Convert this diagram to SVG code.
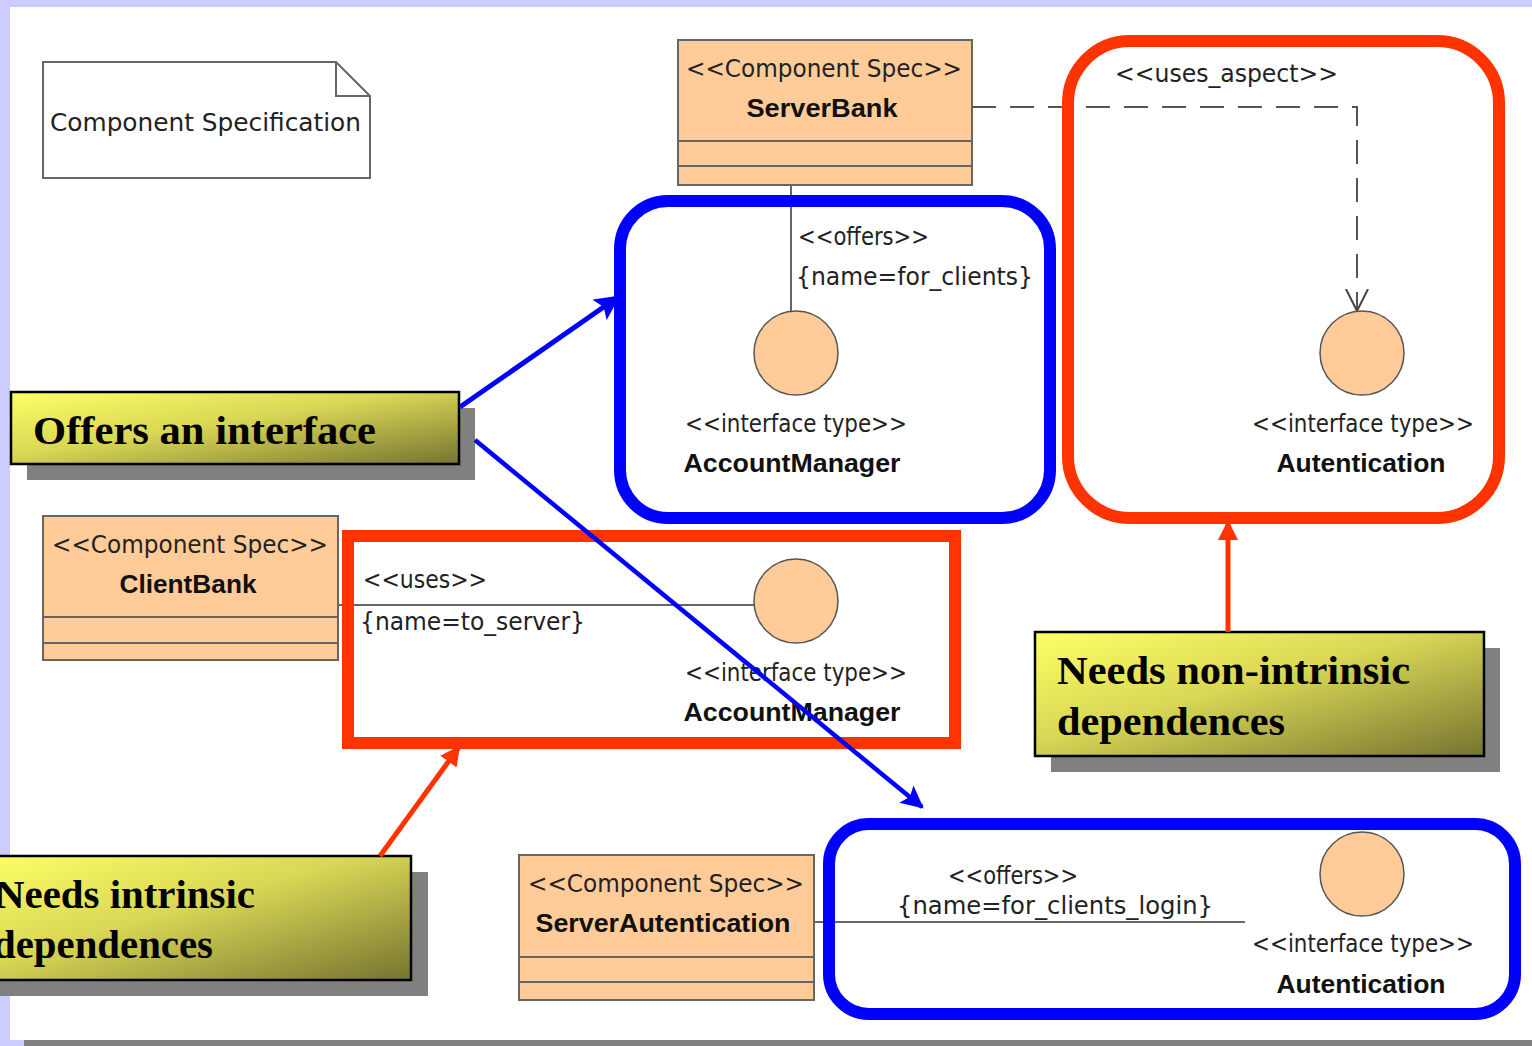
<svg xmlns="http://www.w3.org/2000/svg" width="1532" height="1046" viewBox="0 0 1532 1046">
  <defs>
    <linearGradient id="callout" x1="0" y1="0" x2="1" y2="1">
      <stop offset="0" stop-color="#FFFF66"/>
      <stop offset="0.45" stop-color="#D8D655"/>
      <stop offset="1" stop-color="#767430"/>
    </linearGradient>
    <marker id="blueHead" viewBox="0 0 10 10" refX="9" refY="5" markerWidth="5" markerHeight="5" orient="auto" markerUnits="strokeWidth">
      <path d="M0,0 L10,5 L0,10 L2,5 z" fill="#0000FF"/>
    </marker>
    <marker id="redHead" viewBox="0 0 10 10" refX="9" refY="5" markerWidth="4" markerHeight="4" orient="auto" markerUnits="strokeWidth">
      <path d="M0,0 L10,5 L0,10 z" fill="#FF3300"/>
    </marker>
    <marker id="openHead" viewBox="0 0 24 24" refX="12" refY="22" markerWidth="24" markerHeight="24" orient="0" markerUnits="userSpaceOnUse">
      <path d="M1,0 L12,22 L23,0" fill="none" stroke="#444" stroke-width="2"/>
    </marker>
  </defs>
  <style>
    .comp { fill: #FFCC99; stroke: #666; stroke-width: 2; }
    .iface { fill: #FFCC99; stroke: #555; stroke-width: 1.5; }
    .wire { stroke: #666; stroke-width: 2; fill: none; }
    .st { font-family: "DejaVu Sans", "Liberation Sans", sans-serif; font-size: 24px; fill: #222; }
    .nm { font-family: "Liberation Sans", "DejaVu Sans", sans-serif; font-size: 26px; font-weight: bold; fill: #111; }
    .call { font-family: "Liberation Serif", "Times New Roman", serif; font-size: 40px; font-weight: bold; fill: #000; }
    .box { fill: url(#callout); stroke: #000; stroke-width: 2.5; }
    .shadow { fill: #808080; }
    .blueRing { fill: none; stroke: #0000FF; stroke-width: 12; }
    .redRing { fill: none; stroke: #FF3300; stroke-width: 12; }
  </style>

  <!-- page background and frame -->
  <rect x="0" y="0" width="1532" height="1046" fill="#CCCCFF"/>
  <rect x="10" y="7" width="1522" height="1033" fill="#FFFFFF"/>
  <rect x="24" y="1040" width="1508" height="6" fill="#808080"/>

  <!-- note -->
  <g id="note">
    <path d="M43,62 H336 L370,96 V178 H43 Z" fill="#FFFFFF" stroke="#666" stroke-width="2"/>
    <path d="M336,62 V96 H370" fill="none" stroke="#666" stroke-width="2"/>
    <text class="st" x="50" y="131" font-size="27" textLength="311" lengthAdjust="spacingAndGlyphs">Component Specification</text>
  </g>

  <!-- ServerBank component -->
  <g id="serverbank">
    <rect class="comp" x="678" y="40" width="294" height="145"/>
    <line class="wire" x1="678" y1="141" x2="972" y2="141"/>
    <line class="wire" x1="678" y1="166" x2="972" y2="166"/>
    <text class="st" x="824" y="77" text-anchor="middle" textLength="276" lengthAdjust="spacingAndGlyphs">&lt;&lt;Component Spec&gt;&gt;</text>
    <text class="nm" x="822" y="117" text-anchor="middle" textLength="151" lengthAdjust="spacingAndGlyphs">ServerBank</text>
  </g>

  <!-- ClientBank component -->
  <g id="clientbank">
    <rect class="comp" x="43" y="516" width="295" height="144"/>
    <line class="wire" x1="43" y1="617" x2="338" y2="617"/>
    <line class="wire" x1="43" y1="643" x2="338" y2="643"/>
    <text class="st" x="190" y="553" text-anchor="middle" textLength="276" lengthAdjust="spacingAndGlyphs">&lt;&lt;Component Spec&gt;&gt;</text>
    <text class="nm" x="188" y="593" text-anchor="middle" textLength="137" lengthAdjust="spacingAndGlyphs">ClientBank</text>
  </g>

  <!-- ServerAutentication component -->
  <g id="serverautentication">
    <rect class="comp" x="519" y="855" width="295" height="145"/>
    <line class="wire" x1="519" y1="957" x2="814" y2="957"/>
    <line class="wire" x1="519" y1="982" x2="814" y2="982"/>
    <text class="st" x="666" y="892" text-anchor="middle" textLength="276" lengthAdjust="spacingAndGlyphs">&lt;&lt;Component Spec&gt;&gt;</text>
    <text class="nm" x="663" y="932" text-anchor="middle" textLength="255" lengthAdjust="spacingAndGlyphs">ServerAutentication</text>
  </g>

  <!-- connectors between components and interfaces -->
  <g id="connectors">
    <line class="wire" x1="791" y1="185" x2="791" y2="311"/>
    <polyline points="972,107 1357,107 1357,311" fill="none" stroke="#555" stroke-width="2" stroke-dasharray="24 14" marker-end="url(#openHead)"/>
    <line class="wire" x1="338" y1="605" x2="754" y2="605"/>
    <line class="wire" x1="814" y1="922" x2="1245" y2="922"/>
    <text class="st" x="798" y="245" textLength="131" lengthAdjust="spacingAndGlyphs">&lt;&lt;offers&gt;&gt;</text>
    <text class="st" x="796" y="285" textLength="237" lengthAdjust="spacingAndGlyphs">{name=for_clients}</text>
    <text class="st" x="1115" y="82" textLength="223" lengthAdjust="spacingAndGlyphs">&lt;&lt;uses_aspect&gt;&gt;</text>
    <text class="st" x="363" y="588" textLength="124" lengthAdjust="spacingAndGlyphs">&lt;&lt;uses&gt;&gt;</text>
    <text class="st" x="360" y="630" textLength="225" lengthAdjust="spacingAndGlyphs">{name=to_server}</text>
    <text class="st" x="1013" y="884" text-anchor="middle" textLength="130" lengthAdjust="spacingAndGlyphs">&lt;&lt;offers&gt;&gt;</text>
    <text class="st" x="1055" y="914" text-anchor="middle" textLength="316" lengthAdjust="spacingAndGlyphs">{name=for_clients_login}</text>
  </g>

  <!-- interfaces -->
  <g id="iface-accountmanager-top">
    <circle class="iface" cx="796" cy="353" r="42"/>
    <text class="st" x="796" y="432" text-anchor="middle" textLength="222" lengthAdjust="spacingAndGlyphs">&lt;&lt;interface type&gt;&gt;</text>
    <text class="nm" x="792" y="472" text-anchor="middle" textLength="217" lengthAdjust="spacingAndGlyphs">AccountManager</text>
  </g>
  <g id="iface-autentication-top">
    <circle class="iface" cx="1362" cy="353" r="42"/>
    <text class="st" x="1363" y="432" text-anchor="middle" textLength="222" lengthAdjust="spacingAndGlyphs">&lt;&lt;interface type&gt;&gt;</text>
    <text class="nm" x="1361" y="472" text-anchor="middle" textLength="169" lengthAdjust="spacingAndGlyphs">Autentication</text>
  </g>
  <g id="iface-accountmanager-mid">
    <circle class="iface" cx="796" cy="601" r="42"/>
    <text class="st" x="796" y="681" text-anchor="middle" textLength="222" lengthAdjust="spacingAndGlyphs">&lt;&lt;interface type&gt;&gt;</text>
    <text class="nm" x="792" y="721" text-anchor="middle" textLength="217" lengthAdjust="spacingAndGlyphs">AccountManager</text>
  </g>
  <g id="iface-autentication-bottom">
    <circle class="iface" cx="1362" cy="874" r="42"/>
    <text class="st" x="1363" y="952" text-anchor="middle" textLength="222" lengthAdjust="spacingAndGlyphs">&lt;&lt;interface type&gt;&gt;</text>
    <text class="nm" x="1361" y="993" text-anchor="middle" textLength="169" lengthAdjust="spacingAndGlyphs">Autentication</text>
  </g>

  <!-- highlight frames -->
  <g id="highlights">
    <rect class="blueRing" x="620" y="201" width="430" height="317" rx="48"/>
    <rect class="redRing" x="1068" y="41" width="431" height="477" rx="62"/>
    <rect class="redRing" x="348" y="536" width="607" height="207"/>
    <rect class="blueRing" x="829" y="824" width="686" height="190" rx="40"/>
  </g>

  <!-- annotation callouts -->
  <g id="callout-offers">
    <rect class="shadow" x="27" y="408" width="448" height="72"/>
    <rect class="box" x="11" y="392" width="448" height="72"/>
    <text class="call" x="33" y="444" textLength="343" lengthAdjust="spacingAndGlyphs">Offers an interface</text>
  </g>
  <g id="callout-intrinsic">
    <rect class="shadow" x="-4" y="872" width="432" height="124"/>
    <rect class="box" x="-20" y="856" width="431" height="124"/>
    <text class="call" x="-5" y="908" textLength="260" lengthAdjust="spacingAndGlyphs">Needs intrinsic</text>
    <text class="call" x="-7" y="958" textLength="220" lengthAdjust="spacingAndGlyphs">dependences</text>
  </g>
  <g id="callout-nonintrinsic">
    <rect class="shadow" x="1051" y="648" width="449" height="124"/>
    <rect class="box" x="1035" y="632" width="449" height="124"/>
    <text class="call" x="1057" y="684" textLength="353" lengthAdjust="spacingAndGlyphs">Needs non-intrinsic</text>
    <text class="call" x="1057" y="735" textLength="228" lengthAdjust="spacingAndGlyphs">dependences</text>
  </g>

  <!-- pointer arrows -->
  <g id="pointers">
    <line x1="460" y1="407" x2="618" y2="297" stroke="#0000FF" stroke-width="5" marker-end="url(#blueHead)"/>
    <line x1="475" y1="440" x2="922" y2="807" stroke="#0000FF" stroke-width="4.5" marker-end="url(#blueHead)"/>
    <line x1="380" y1="856" x2="459" y2="747" stroke="#FF3300" stroke-width="5" marker-end="url(#redHead)"/>
    <line x1="1228" y1="632" x2="1228" y2="522" stroke="#FF3300" stroke-width="5" marker-end="url(#redHead)"/>
  </g>
</svg>
